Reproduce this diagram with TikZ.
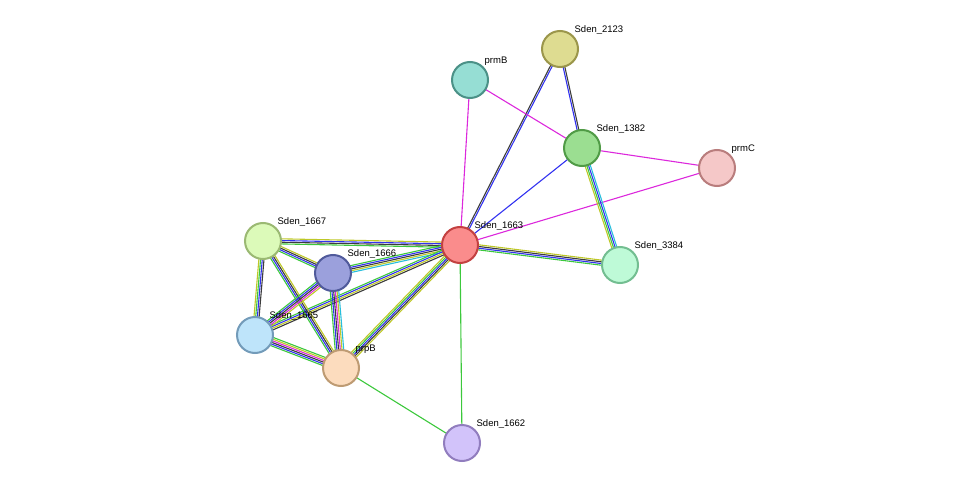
\documentclass[tikz,border=0pt]{standalone}
\usepackage{fontspec}
\setmainfont{Liberation Sans}
\usetikzlibrary{calc, backgrounds}
\definecolor{eneigh}{RGB}{60, 200, 60}
\definecolor{ecooc}{RGB}{50, 50, 240}
\definecolor{ecoex}{RGB}{60, 60, 60}
\definecolor{eexp}{RGB}{220, 40, 220}
\definecolor{etext}{RGB}{190, 200, 40}
\definecolor{edb}{RGB}{40, 190, 220}
\definecolor{fillA}{RGB}{222, 220, 145}\definecolor{drawA}{RGB}{155, 150, 75}
\definecolor{fillB}{RGB}{150, 222, 212}\definecolor{drawB}{RGB}{75, 145, 135}
\definecolor{fillC}{RGB}{155, 222, 145}\definecolor{drawC}{RGB}{80, 155, 70}
\definecolor{fillD}{RGB}{245, 200, 200}\definecolor{drawD}{RGB}{185, 125, 125}
\definecolor{fillE}{RGB}{250, 140, 140}\definecolor{drawE}{RGB}{195, 65, 65}
\definecolor{fillF}{RGB}{190, 250, 215}\definecolor{drawF}{RGB}{115, 190, 145}
\definecolor{fillG}{RGB}{220, 250, 185}\definecolor{drawG}{RGB}{155, 185, 115}
\definecolor{fillH}{RGB}{155, 160, 220}\definecolor{drawH}{RGB}{80, 90, 155}
\definecolor{fillI}{RGB}{190, 228, 250}\definecolor{drawI}{RGB}{115, 155, 185}
\definecolor{fillJ}{RGB}{252, 220, 190}\definecolor{drawJ}{RGB}{190, 155, 115}
\definecolor{fillK}{RGB}{210, 195, 250}\definecolor{drawK}{RGB}{145, 125, 190}
\tikzset{
  protein/.style={circle, draw=draw#1, fill=fill#1, minimum size=36pt, line width=2pt, inner sep=0pt},
  plabel/.style={font=\fontsize{9.5}{11}\selectfont, anchor=south west, inner sep=1pt},
  evidence/.style={line width=1.1pt},
}
% parallel coloured lines between two proteins
\newcommand\multiedge[4]{%
  \foreach \c [count=\i] in {#4} {
    \pgfmathsetmacro\off{(\i-(#3+1)/2)*1.7}
    \draw[evidence, \c] ($(#1.center)!\off pt!90:(#2.center)$) -- ($(#2.center)!\off pt!-90:(#1.center)$);
  }%
}
\begin{document}
\begin{tikzpicture}[x=1pt, y=-1pt]
\useasboundingbox (0,0) rectangle (976,489);

% proteins
\node[protein=A] (s2123) at (560,49) {};
\node[protein=B] (prmB) at (470,80) {};
\node[protein=C] (s1382) at (582,148) {};
\node[protein=D] (prmC) at (717,168) {};
\node[protein=E] (s1663) at (460,245) {};
\node[protein=F] (s3384) at (620,265) {};
\node[protein=G] (s1667) at (263,241) {};
\node[protein=H] (s1666) at (333,273) {};
\node[protein=I] (s1665) at (255,335) {};
\node[protein=J] (prpB) at (341,368) {};
\node[protein=K] (s1662) at (462,443) {};

% labels
\node[plabel] at (s2123.north east) {Sden\_2123};
\node[plabel] at (prmB.north east) {prmB};
\node[plabel] at (s1382.north east) {Sden\_1382};
\node[plabel] at (prmC.north east) {prmC};
\node[plabel] at (s1663.north east) {Sden\_1663};
\node[plabel] at (s3384.north east) {Sden\_3384};
\node[plabel] at (s1667.north east) {Sden\_1667};
\node[plabel] at (s1666.north east) {Sden\_1666};
\node[plabel] at (s1665.north east) {Sden\_1665};
\node[plabel] at (prpB.north east) {prpB};
\node[plabel] at (s1662.north east) {Sden\_1662};

% evidence edges
\begin{scope}[on background layer]
\multiedge{s1663}{s2123}{2}{ecooc,ecoex}
\multiedge{s2123}{s1382}{2}{ecooc,ecoex}
\multiedge{prmB}{s1382}{1}{eexp}
\multiedge{prmB}{s1663}{1}{eexp}
\multiedge{s1382}{prmC}{1}{eexp}
\multiedge{s1663}{prmC}{1}{eexp}
\multiedge{s1382}{s1663}{1}{ecooc}
\multiedge{s1382}{s3384}{4}{etext,eneigh,ecooc,edb}
\multiedge{s1663}{s3384}{4}{eneigh,ecooc,ecoex,etext}
\multiedge{s1663}{s1662}{1}{eneigh}
\multiedge{prpB}{s1662}{1}{eneigh}
\multiedge{s1663}{s1667}{4}{etext,ecooc,ecoex,eneigh}
\multiedge{s1663}{s1666}{5}{eneigh,ecooc,ecoex,etext,edb}
\multiedge{s1663}{s1665}{4}{eneigh,ecooc,etext,ecoex}
\multiedge{s1663}{prpB}{5}{etext,eneigh,ecooc,ecoex,etext}
\multiedge{s1667}{s1666}{4}{eneigh,ecooc,ecoex,etext}
\multiedge{s1667}{s1665}{4}{etext,eneigh,ecooc,ecoex}
\multiedge{s1667}{prpB}{4}{eneigh,ecooc,ecoex,etext}
\multiedge{s1666}{s1665}{5}{eneigh,ecooc,ecoex,eexp,etext}
\multiedge{s1666}{prpB}{6}{eneigh,ecooc,ecoex,eexp,etext,edb}
\multiedge{s1665}{prpB}{6}{eneigh,ecooc,ecoex,eexp,etext,eneigh}
\end{scope}
\end{tikzpicture}
\end{document}
